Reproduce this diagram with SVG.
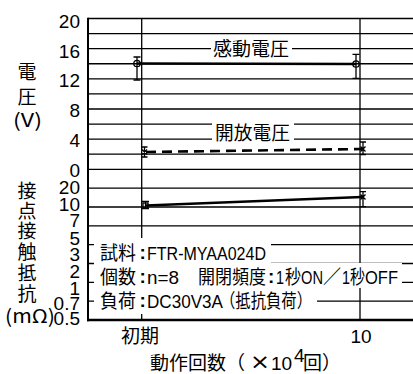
<svg xmlns="http://www.w3.org/2000/svg" width="413" height="374" viewBox="0 0 413 374">
<style>
.j{font-family:"Noto Sans CJK JP","Noto Sans CJK SC",sans-serif;font-size:19px;fill:#000}
.n{font-family:"Liberation Sans",Arial,sans-serif;font-size:19px;fill:#000}
.g{stroke:#000;stroke-width:1.3;fill:none}
.d{stroke:#000;stroke-width:2.6;fill:none}
.e{stroke:#000;stroke-width:1.3;fill:none}
.w{fill:#fff}
</style>
<rect width="413" height="374" fill="#fff"/>
<g id="grid" class="g">
<path d="M88 33.58H413M88 48.66H413M88 63.74H413M88 78.82H413M88 93.9H413M88 108.98H413M88 124.06H413M88 139.14H413M88 154.22H413M88 169.3H413M88 188.14H413M88 206.98H413M88 225.82H413M88 244.66H413M88 263.5H413M88 282.34H413M88 301.18H413"/>
<path d="M141.7 18.5V320M360 18.5V320"/>
<path d="M88 18.5H413" stroke-width="1.6"/>
<path d="M88 17.7V321.3" stroke-width="2"/>
<path d="M87 320H413" stroke-width="2.6"/>
</g>
<g id="connectors">
<g id="pickup-voltage">
<line class="d" x1="137" y1="63.5" x2="356" y2="64"/>
<path class="e" d="M137 57V80M133.5 57h7M133.5 80h7M356 54.3V78.3M352.5 54.3h7M352.5 78.3h7"/>
<circle class="e" cx="137" cy="63.5" r="3.2" stroke-width="1.5"/>
<circle class="e" cx="356" cy="64" r="3.2" stroke-width="1.5"/>
</g>
<g id="dropout-voltage">
<line class="d" x1="146" y1="152" x2="362" y2="149" stroke-dasharray="10 6"/>
<path class="e" d="M144.5 147V157M141.5 147h6M141.5 157h6M142 149.5l5 5M147 149.5l-5 5"/>
<path class="e" d="M363 142V154.5M360 142h6M360 154.5h6M360.5 146.5l5 5M365.5 146.5l-5 5"/>
</g>
<g id="contact-resistance">
<line class="d" x1="146" y1="205.5" x2="362" y2="197"/>
<path class="e" d="M145.5 201.5V208.5M142 201.5h7M142 208.5h7"/>
<rect class="e" x="143" y="203" width="5" height="5"/>
<path class="e" d="M363 191.7V206.7M360 191.7h6M360 206.7h6M360.5 194.5l5 5M365.5 194.5l-5 5"/>
</g>
</g>
<g id="label-pickup">
<rect class="w" x="211" y="40" width="81" height="18"/>
<text class="j" x="213" y="56" textLength="76" lengthAdjust="spacingAndGlyphs">感動電圧</text>
</g>
<g id="label-dropout">
<rect class="w" x="212" y="122.5" width="82" height="18.7"/>
<text class="j" x="215" y="139.5" textLength="75" lengthAdjust="spacingAndGlyphs">開放電圧</text>
</g>
<g id="notes">
<rect class="w" x="94" y="238" width="177" height="25"/>
<rect class="w" x="94" y="263" width="308" height="25"/>
<rect class="w" x="94" y="288" width="223" height="26"/>
<text class="j" x="100" y="260" textLength="36" lengthAdjust="spacingAndGlyphs">試料</text>
<text class="n" x="139.5" y="259" font-weight="bold">:</text>
<text class="n" x="147" y="260" textLength="119" lengthAdjust="spacingAndGlyphs">FTR-MYAA024D</text>
<text class="j" x="100" y="284" textLength="36" lengthAdjust="spacingAndGlyphs">個数</text>
<text class="n" x="139.5" y="283" font-weight="bold">:</text>
<text class="n" x="147" y="284" textLength="32" lengthAdjust="spacingAndGlyphs">n=8</text>
<text class="j" x="198" y="284" textLength="68" lengthAdjust="spacingAndGlyphs">開閉頻度</text>
<text class="n" x="268" y="283" font-weight="bold">:</text>
<text class="n" x="276" y="284" textLength="8" lengthAdjust="spacingAndGlyphs">1</text>
<text class="j" x="285" y="284" textLength="16" lengthAdjust="spacingAndGlyphs">秒</text>
<text class="n" x="301" y="284" textLength="22" lengthAdjust="spacingAndGlyphs">ON</text>
<text class="j" x="323" y="284" textLength="18" lengthAdjust="spacingAndGlyphs">／</text>
<text class="n" x="342" y="284" textLength="8" lengthAdjust="spacingAndGlyphs">1</text>
<text class="j" x="350" y="284" textLength="15" lengthAdjust="spacingAndGlyphs">秒</text>
<text class="n" x="365" y="284" textLength="33" lengthAdjust="spacingAndGlyphs">OFF</text>
<text class="j" x="100" y="308" textLength="36" lengthAdjust="spacingAndGlyphs">負荷</text>
<text class="n" x="139.5" y="307" font-weight="bold">:</text>
<text class="n" x="147" y="308" textLength="76" lengthAdjust="spacingAndGlyphs">DC30V3A</text>
<text class="j" x="220" y="308" textLength="92" lengthAdjust="spacingAndGlyphs">（抵抗負荷）</text>
</g>
<g id="y-axis-voltage">
<text class="j" x="27" y="78.5" text-anchor="middle">電</text>
<text class="j" x="27" y="104" text-anchor="middle">圧</text>
<text class="j" x="13" y="126.5" textLength="29" lengthAdjust="spacingAndGlyphs">(V)</text>
<g class="n" text-anchor="end">
<text x="80" y="28">20</text>
<text x="80" y="57.5">16</text>
<text x="80" y="87.3">12</text>
<text x="80" y="117">8</text>
<text x="80" y="146.8">4</text>
<text x="80" y="176.6">0</text>
</g>
</g>
<g id="y-axis-resistance">
<g class="j" text-anchor="middle">
<text x="27" y="198">接</text>
<text x="27" y="217.5">点</text>
<text x="27" y="237.5">接</text>
<text x="27" y="258.5">触</text>
<text x="27" y="280">抵</text>
<text x="27" y="301">抗</text>
</g>
<text class="j" x="5" y="323" textLength="50" lengthAdjust="spacingAndGlyphs">(mΩ)</text>
<g class="n" text-anchor="end">
<text x="80" y="194">20</text>
<text x="80" y="210.5">10</text>
<text x="80" y="227">7</text>
<text x="80" y="244.5">5</text>
<text x="80" y="261">3</text>
<text x="80" y="277.5">2</text>
<text x="80" y="294.5">1</text>
<text x="80" y="310">0.7</text>
<text x="80" y="325">0.5</text>
</g>
</g>
<g id="x-axis">
<text class="j" x="140" y="343" text-anchor="middle" font-size="20">初期</text>
<text class="n" x="361" y="343" text-anchor="middle" font-size="20">10</text>
<text class="j" x="150" y="370" font-size="20">動作回数（</text>
<text x="250" y="368.5" font-family="DejaVu Sans, sans-serif" font-size="22" textLength="20" lengthAdjust="spacingAndGlyphs">×</text>
<text class="n" x="271" y="370" font-size="20">10</text>
<text class="n" x="294" y="362" font-size="11">4</text>
<text class="j" x="303" y="370" font-size="20">回）</text>
</g>
</svg>
